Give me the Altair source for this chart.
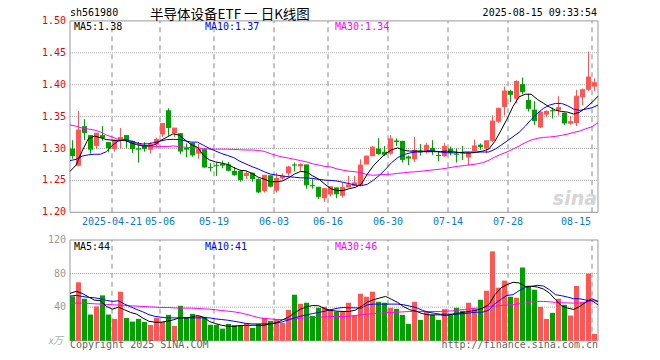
import altair as alt
import numpy as np
import pandas as pd

# ---------------- data ----------------
opens = [1.300, 1.273, 1.335, 1.321, 1.304, 1.321, 1.310, 1.299, 1.313, 1.321,
         1.312, 1.300, 1.305, 1.298, 1.306, 1.322, 1.360, 1.324, 1.324, 1.301,
         1.309, 1.292, 1.299, 1.2705, 1.2735, 1.276, 1.275, 1.265, 1.265, 1.257,
         1.262, 1.252, 1.233, 1.258, 1.234, 1.253, 1.261, 1.2745, 1.272, 1.275,
         1.2425, 1.240, 1.222, 1.228, 1.239, 1.226, 1.239, 1.241, 1.243, 1.275,
         1.288, 1.300, 1.295, 1.292, 1.3125, 1.312, 1.2875, 1.283, 1.296, 1.294,
         1.301, 1.2895, 1.288, 1.300, 1.2915, 1.2935, 1.286, 1.296, 1.306, 1.300,
         1.312, 1.342, 1.365, 1.390, 1.378, 1.401, 1.376, 1.361, 1.333, 1.353,
         1.3595, 1.360, 1.356, 1.339, 1.340, 1.380, 1.392, 1.397]
closes = [1.289, 1.329, 1.325, 1.299, 1.324, 1.317, 1.301, 1.313, 1.317, 1.313,
          1.300, 1.299, 1.300, 1.306, 1.314, 1.339, 1.333, 1.332, 1.296, 1.299,
          1.290, 1.299, 1.271, 1.270, 1.273, 1.274, 1.266, 1.259, 1.251, 1.261,
          1.253, 1.232, 1.258, 1.241, 1.253, 1.256, 1.271, 1.274, 1.275, 1.243,
          1.2415, 1.225, 1.237, 1.240, 1.229, 1.239, 1.243, 1.246, 1.274, 1.288,
          1.302, 1.292, 1.291, 1.315, 1.311, 1.283, 1.285, 1.297, 1.2955, 1.305,
          1.296, 1.289, 1.303, 1.294, 1.291, 1.293, 1.293, 1.304, 1.303, 1.312,
          1.343, 1.363, 1.390, 1.385, 1.405, 1.389, 1.363, 1.344, 1.357, 1.358,
          1.359, 1.364, 1.340, 1.342, 1.382, 1.392, 1.412, 1.403]
highs = [1.313, 1.359, 1.346, 1.321, 1.324, 1.335, 1.310, 1.314, 1.332, 1.321,
         1.312, 1.310, 1.310, 1.310, 1.317, 1.339, 1.363, 1.332, 1.324, 1.308,
         1.309, 1.307, 1.299, 1.277, 1.278, 1.281, 1.279, 1.271, 1.265, 1.265,
         1.262, 1.253, 1.258, 1.258, 1.262, 1.261, 1.273, 1.278, 1.277, 1.275,
         1.252, 1.240, 1.237, 1.240, 1.239, 1.246, 1.257, 1.257, 1.283, 1.289,
         1.304, 1.316, 1.304, 1.321, 1.316, 1.312, 1.289, 1.318, 1.307, 1.309,
         1.313, 1.296, 1.309, 1.303, 1.300, 1.304, 1.293, 1.314, 1.308, 1.312,
         1.352, 1.364, 1.397, 1.392, 1.407, 1.411, 1.386, 1.374, 1.358, 1.360,
         1.364, 1.382, 1.356, 1.351, 1.392, 1.394, 1.452, 1.410]
lows = [1.284, 1.272, 1.313, 1.292, 1.299, 1.312, 1.294, 1.295, 1.300, 1.301,
        1.293, 1.278, 1.295, 1.292, 1.301, 1.318, 1.320, 1.318, 1.291, 1.286,
        1.287, 1.284, 1.270, 1.264, 1.257, 1.269, 1.264, 1.257, 1.248, 1.252,
        1.248, 1.230, 1.231, 1.239, 1.231, 1.251, 1.255, 1.264, 1.265, 1.237,
        1.237, 1.221, 1.216, 1.225, 1.222, 1.223, 1.239, 1.241, 1.241, 1.275,
        1.288, 1.290, 1.288, 1.290, 1.304, 1.278, 1.274, 1.279, 1.289, 1.292,
        1.290, 1.280, 1.287, 1.289, 1.278, 1.282, 1.274, 1.296, 1.298, 1.293,
        1.310, 1.340, 1.352, 1.373, 1.371, 1.385, 1.358, 1.337, 1.332, 1.349,
        1.347, 1.352, 1.337, 1.337, 1.335, 1.368, 1.390, 1.390]
ma5 = [1.264, 1.274, 1.296, 1.315, 1.3195, 1.317, 1.314, 1.313, 1.312, 1.313,
       1.309, 1.306, 1.304, 1.304, 1.306, 1.313, 1.318, 1.323, 1.321, 1.313,
       1.306, 1.302, 1.289, 1.282, 1.279, 1.277, 1.275, 1.270, 1.266, 1.265,
       1.261, 1.255, 1.252, 1.248, 1.248, 1.249, 1.254, 1.260, 1.264, 1.263,
       1.257, 1.252, 1.244, 1.237, 1.234, 1.234, 1.237, 1.239, 1.244, 1.260,
       1.273, 1.283, 1.292, 1.298, 1.301, 1.297, 1.296, 1.296, 1.296, 1.295,
       1.295, 1.295, 1.296, 1.295, 1.294, 1.293, 1.293, 1.294, 1.296, 1.299,
       1.311, 1.328, 1.346, 1.366, 1.381, 1.385, 1.385, 1.377, 1.371, 1.365,
       1.360, 1.358, 1.357, 1.354, 1.357, 1.364, 1.372, 1.382]
ma10 = [1.281, 1.283, 1.288, 1.290, 1.291, 1.291, 1.295, 1.305, 1.312, 1.314,
        1.312, 1.309, 1.307, 1.3075, 1.3096, 1.312, 1.314, 1.3143, 1.314, 1.312,
        1.310, 1.310, 1.305, 1.300, 1.296, 1.292, 1.289, 1.2856, 1.280, 1.2757,
        1.2715, 1.268, 1.2636, 1.260, 1.2584, 1.257, 1.2557, 1.255, 1.254, 1.254,
        1.253, 1.2516, 1.2505, 1.250, 1.249, 1.247, 1.245, 1.2427, 1.2417, 1.244,
        1.2505, 1.258, 1.2676, 1.278, 1.2857, 1.2904, 1.293, 1.2945, 1.2945, 1.2966,
        1.296, 1.2945, 1.2935, 1.293, 1.2935, 1.2945, 1.2945, 1.2945, 1.2945, 1.2945,
        1.2986, 1.305, 1.3117, 1.3185, 1.3253, 1.3347, 1.3456, 1.355, 1.3628, 1.368,
        1.3707, 1.3707, 1.367, 1.3618, 1.3597, 1.3618, 1.3639, 1.368]
ma30 = [1.337, 1.335, 1.332, 1.3305, 1.329, 1.326, 1.321, 1.318, 1.314, 1.312,
        1.311, 1.308, 1.305, 1.304, 1.303, 1.303, 1.303, 1.304, 1.303, 1.302,
        1.301, 1.301, 1.300, 1.299, 1.299, 1.299, 1.299, 1.2986, 1.298, 1.2976,
        1.2976, 1.297, 1.2955, 1.292, 1.289, 1.2866, 1.285, 1.283, 1.281, 1.279,
        1.276, 1.274, 1.272, 1.271, 1.268, 1.266, 1.2645, 1.2635, 1.262, 1.259,
        1.258, 1.2588, 1.2593, 1.2598, 1.261, 1.262, 1.263, 1.2635, 1.2645, 1.2656,
        1.2666, 1.2676, 1.269, 1.2707, 1.2723, 1.2733, 1.2746, 1.2757, 1.2778, 1.2814,
        1.2866, 1.2908, 1.2945, 1.2992, 1.3039, 1.3091, 1.3133, 1.3159, 1.3174, 1.318,
        1.319, 1.3206, 1.3227, 1.3253, 1.3273, 1.331, 1.3341, 1.3404]
volume = [52.8, 69.6, 50, 31.2, 40.8, 54, 31.2, 26, 58.4, 27.2,
          22.8, 26, 22.4, 18.8, 27.2, 22.4, 30.8, 17.6, 41.6, 27.2,
          32, 29.6, 28.4, 19, 19, 14.4, 20, 18.4, 18.4, 20.6,
          15.2, 20, 27.2, 23.6, 26, 21.2, 36.8, 54.8, 44, 45.2,
          29.6, 39.2, 40.4, 37.2, 34.6, 34.2, 45.2, 30, 56, 52.4,
          58.4, 46.4, 45.2, 39.2, 38, 30.8, 20, 46.4, 24.8, 34.4,
          30.8, 24.8, 37.6, 30.8, 39.2, 35.6, 45.2, 38, 48.8, 59.6,
          106.4, 63.2, 71.6, 52.4, 51.2, 87.2, 65.2, 60.8, 40.4, 26,
          33.2, 50, 42.8, 30, 65.2, 46.4, 80, 8]
vma5 = [56.4, 58.8, 56.4, 52.4, 48.4, 47.6, 40.8, 37.6, 40, 36.8,
        33.6, 31.6, 27, 23.2, 22, 22, 23.2, 24.8, 27.2, 27.2,
        28, 30, 28, 22.8, 20.4, 18.4, 17.2, 17.2, 18, 18.2,
        18.4, 18.4, 18.4, 20, 21.2, 24.8, 28, 33.2, 37.6, 40.4,
        42, 41.6, 38, 36, 35.2, 34.8, 34.8, 36.4, 40.8, 46,
        48.8, 50.8, 52.8, 49.2, 45.6, 40.4, 36.8, 35.2, 32.4, 30.8,
        30.8, 30.8, 30, 31.6, 32.8, 34, 35.2, 36.4, 38.8, 42.8,
        54.8, 62.8, 66.8, 69.6, 68.8, 64.8, 64.8, 64, 61.6, 56.8,
        48.8, 41.6, 38.8, 37.2, 40.8, 46, 50, 46.8]
vma10 = [53.2, 54, 52.8, 51.6, 51.2, 50, 48, 46.8, 47.6, 43.6,
         40.4, 37.2, 34.4, 31, 29, 28, 27.2, 27.2, 27.2, 27.2,
         27.2, 27.2, 27.2, 27.2, 26, 25.2, 24.4, 23.2, 22, 20.6,
         20, 20, 20, 20.4, 21.2, 22.4, 24.8, 27.2, 29.2, 30.8,
         32.4, 33.6, 35.2, 37, 38.6, 39.6, 39.2, 39.2, 38.8, 42.8,
         43.6, 43.6, 43.6, 43.6, 43.6, 42.8, 41.2, 39.6, 36.4, 34,
         32.8, 31.6, 31.6, 31.6, 31.6, 32.4, 33.2, 34, 34, 36.4,
         44, 49.2, 54, 54.8, 59.6, 63.6, 64.8, 66, 65.2, 60.8,
         54.8, 53.6, 52, 50, 50, 48.4, 47.6, 42.8]
vma30 = [44.8, 44.8, 44.8, 44.4, 44, 43.6, 43.2, 42.8, 42.4, 42,
         41.6, 41.2, 40.8, 40.4, 40, 39.6, 39.6, 39.2, 38.8, 38.8,
         38.8, 38.4, 38, 37.6, 36.8, 36, 35.2, 34.4, 33.2, 31.6,
         29.6, 27.6, 26.4, 26, 25.2, 25.2, 25.6, 26.4, 26.8, 27.2,
         27.6, 28, 28.4, 28.8, 28.8, 28.8, 29.2, 30, 30.8, 31.6,
         32.4, 32.8, 33.2, 33.6, 34, 34.4, 34.8, 34.8, 34.8, 34.8,
         34.8, 34.8, 35.2, 35.6, 36.4, 37.2, 38, 38.8, 39.6, 40.4,
         41.2, 42, 42.4, 42.8, 44, 44.8, 46, 46.8, 46.8, 46.4,
         45.6, 45.2, 45, 44.8, 45, 45.2, 47.6, 46.8]

date_ticks = [7, 15, 24, 34, 43, 53, 63, 73, 87]
date_labels = ["2025-04-21", "05-06", "05-19", "06-03", "06-16", "06-30",
               "07-14", "07-28", "08-15"]
price_ticks = [1.20, 1.25, 1.30, 1.35, 1.40, 1.45, 1.50]
vol_ticks = [40, 80, 120]

# ---------------- frame / style ----------------
N = len(closes)
RED, GREEN = "#ff5555", "#00a000"
MONO = "DejaVu Sans Mono"
PH = 191.4                  # price panel height
VT, VB = 219.1, 319.8       # volume panel top/bottom inside the view

df = pd.DataFrame({"i": np.arange(N), "open": opens, "close": closes,
                   "high": highs, "low": lows, "ma5": ma5, "ma10": ma10,
                   "ma30": ma30, "vol": volume, "vma5": vma5,
                   "vma10": vma10, "vma30": vma30})
df["bx0"] = df["i"]
df["bx1"] = df["i"] + 5 / 6
df["xc"] = df["i"] + 2.5 / 6
df["xm"] = df["i"] * N / (N - 1)
df["zero"] = 0.0
df["col"] = np.where(df["close"] >= df["open"], RED, GREEN)

xs = alt.Scale(domain=[0, N], nice=False, zero=False)
ps = alt.Scale(domain=[1.2, 1.5], range=[PH, 0], nice=False, zero=False)
vs = alt.Scale(domain=[0, 120], range=[VB, VT], nice=False, zero=False)


def X(f):
    return alt.X(f, type="quantitative", scale=xs, axis=None)


def X2(f):
    return alt.X2(f)


def YP(f):
    return alt.Y(f, type="quantitative", scale=ps, axis=None)


def YV(f):
    return alt.Y(f, type="quantitative", scale=vs, axis=None)


base = alt.Chart(df)

# grid
hgrid_p = pd.DataFrame({"v": price_ticks[1:-1], "a": 0, "b": N})
hgrid_v = pd.DataFrame({"v": vol_ticks[:-1], "a": 0, "b": N})
vgrid = pd.DataFrame({"k": date_ticks, "p0": 1.2, "p1": 1.5, "v0": 0, "v1": 120})

layers = []
layers.append(alt.Chart(hgrid_p).mark_rule(color="#aaaaaa", strokeDash=[1, 1])
              .encode(x=X("a"), x2=X2("b"), y=YP("v")))
layers.append(alt.Chart(hgrid_v).mark_rule(color="#aaaaaa", strokeDash=[1, 1])
              .encode(x=X("a"), x2=X2("b"), y=YV("v")))
layers.append(alt.Chart(vgrid).mark_rule(color="#b0b0b0", strokeDash=[5, 4], strokeWidth=1.5)
              .encode(x=X("k"), y=YP("p0"), y2=alt.Y2("p1")))
layers.append(alt.Chart(vgrid).mark_rule(color="#b0b0b0", strokeDash=[5, 4], strokeWidth=1.5)
              .encode(x=X("k"), y=YV("v0"), y2=alt.Y2("v1")))

# frames
fr = pd.DataFrame({"a": [0], "b": [N], "p0": [1.2], "p1": [1.5], "v0": [0], "v1": [120]})
layers.append(alt.Chart(fr).mark_rect(fillOpacity=0, stroke="#999999", strokeWidth=1)
              .encode(x=X("a"), x2=X2("b"), y=YP("p0"), y2=alt.Y2("p1")))
layers.append(alt.Chart(fr).mark_rect(fillOpacity=0, stroke="#999999", strokeWidth=1)
              .encode(x=X("a"), x2=X2("b"), y=YV("v0"), y2=alt.Y2("v1")))

# candles
layers.append(base.mark_rule(strokeWidth=1)
              .encode(x=X("xc"), y=YP("low"), y2=alt.Y2("high"),
                      color=alt.Color("col:N", scale=None)))
layers.append(base.mark_rect()
              .encode(x=X("bx0"), x2=X2("bx1"), y=YP("open"), y2=alt.Y2("close"),
                      color=alt.Color("col:N", scale=None)))
layers.append(base.mark_rule(strokeWidth=1)
              .encode(x=X("bx0"), x2=X2("bx1"), y=YP("close"),
                      color=alt.Color("col:N", scale=None)))

# volume bars
layers.append(base.mark_rect()
              .encode(x=X("bx0"), x2=X2("bx1"), y=YV("vol"), y2=alt.Y2("zero"),
                      color=alt.Color("col:N", scale=None)))

# moving averages
for f, c in [("ma30", "#ff00ff"), ("ma10", "#0000ff"), ("ma5", "#000000")]:
    layers.append(base.mark_line(color=c, strokeWidth=1).encode(x=X("xm"), y=YP(f)))
for f, c in [("vma30", "#ff00ff"), ("vma10", "#0000ff"), ("vma5", "#000000")]:
    layers.append(base.mark_line(color=c, strokeWidth=1).encode(x=X("xm"), y=YV(f)))


def text_layer(d, yenc, **kw):
    props = dict(font=MONO, fontSize=10)
    props.update(kw)
    return alt.Chart(pd.DataFrame(d)).mark_text(**props).encode(
        x=X("x"), y=yenc, text="t:N")


# axis labels
layers.append(text_layer({"x": 0, "y": price_ticks, "t": [f"{v:.2f}" for v in price_ticks]},
                         YP("y"), align="right", baseline="middle", dx=-4, color="#ee0000"))
layers.append(text_layer({"x": 0, "y": vol_ticks, "t": [str(v) for v in vol_ticks]},
                         YV("y"), align="right", baseline="middle", dx=-4, color="#999999"))
layers.append(text_layer({"x": [0], "y": [0], "t": ["x万"]},
                         YV("y"), align="right", baseline="middle", dx=-7, color="#aaaaaa",
                         fontStyle="italic", font="Noto Sans CJK SC", fontSize=10))
layers.append(text_layer({"x": date_ticks[:-1], "y": 1.2, "t": date_labels[:-1]},
                         YP("y"), align="center", baseline="middle", dy=9.5, color="#0a78d2"))
layers.append(text_layer({"x": date_ticks[-1:], "y": 1.2, "t": date_labels[-1:]},
                         YP("y"), align="right", baseline="middle", dy=9.5, dx=-1, color="#0a78d2"))

# header
layers.append(text_layer({"x": [0], "y": [1.5], "t": ["sh561980"]},
                         YP("y"), align="left", baseline="middle", dy=-7.5, color="#000000"))
layers.append(text_layer({"x": [13.35], "y": [1.5], "t": ["半导体设备ETF 一 日K线图"]},
                         YP("y"), align="left", baseline="middle", dy=-6.2, color="#000000",
                         font="Noto Sans CJK SC", fontSize=13.5))
layers.append(text_layer({"x": [N], "y": [1.5], "t": ["2025-08-15 09:33:54"]},
                         YP("y"), align="right", baseline="middle", dy=-7.5, dx=-1, color="#000000"))

# MA legends
for xv, t, c in [(0.67, "MA5:1.38", "#000000"), (22.5, "MA10:1.37", "#0000ff"),
                 (44.17, "MA30:1.34", "#ff00ff")]:
    layers.append(text_layer({"x": [xv], "y": [1.5], "t": [t]}, YP("y"),
                             align="left", baseline="middle", dy=6, color=c))
for xv, t, c in [(0.67, "MA5:44", "#000000"), (22.5, "MA10:41", "#0000ff"),
                 (44.17, "MA30:46", "#ff00ff")]:
    layers.append(text_layer({"x": [xv], "y": [120], "t": [t]}, YV("y"),
                             align="left", baseline="middle", dy=6.5, color=c))

# footer
layers.append(text_layer({"x": [0], "y": [0], "t": ["Copyright 2025 SINA.COM"]}, YV("y"),
                         align="left", baseline="middle", dy=4.5, color="#666666"))
layers.append(text_layer({"x": [N], "y": [0], "t": ["http://finance.sina.com.cn"]}, YV("y"),
                         align="right", baseline="middle", dy=4.5, color="#666666"))

# watermark
layers.append(text_layer({"x": [N], "y": [1.2], "t": ["sina"]}, YP("y"),
                         align="right", baseline="middle", dy=-13, dx=-1, color="#d6d6d6",
                         font="DejaVu Sans", fontSize=19, fontWeight="bold", fontStyle="italic"))

chart = alt.layer(*layers).resolve_scale(y="independent").properties(
    width=528, height=VB,
    autosize=alt.AutoSizeParams(type="none"),
    padding={"left": 62, "top": 12.9, "right": 54, "bottom": 19.3},
    background="white",
).configure_view(stroke=None)

chart.save("out.html", embed_options={"renderer": "svg", "actions": False})
